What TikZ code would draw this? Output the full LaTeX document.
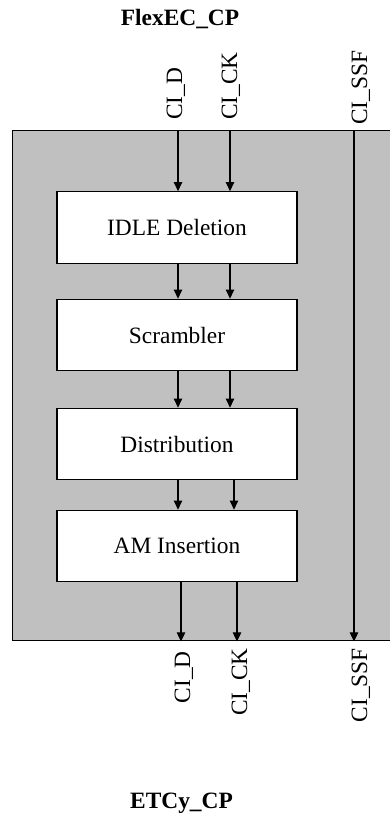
\documentclass[tikz,border=0pt]{standalone}
\usepackage{fontspec}
\setmainfont{Liberation Serif}
\usetikzlibrary{arrows.meta}
\definecolor{cpgray}{RGB}{192,192,192}
\tikzset{
  frame/.style={draw=black, line width=1.4pt, fill=cpgray, rectangle, inner sep=0pt},
  block/.style={draw=black, line width=1.3pt, fill=white, rectangle, inner sep=0pt,
                minimum width=240pt, minimum height=71.5pt, font=\fontsize{23.4}{28}\selectfont},
  sig/.style={font=\fontsize{23.4}{28}\selectfont, inner sep=0pt, rotate=90},
  title/.style={font=\fontsize{23.4}{28}\selectfont\bfseries, inner sep=0pt, anchor=base},
  arr/.style={line width=1.1pt, -{Triangle[length=9pt,width=8.5pt]}}
}
\begin{document}
\begin{tikzpicture}[x=1pt,y=-1pt]
\useasboundingbox (0,0) rectangle (390,814);
% outer frame (right edge lies outside the picture)
\node[frame, minimum width=384pt, minimum height=510pt, anchor=north west] (cp) at (12,130) {};
% blocks
\node[block] (idle) at (177,227.5) {IDLE Deletion};
\node[block] (scr)  at (177,335)   {Scrambler};
\node[block] (dist) at (177,444)   {Distribution};
\node[block] (am)   at (177,546)   {AM Insertion};
% x positions
\coordinate (xd) at (178,0);
\coordinate (xk) at (230,0);
\coordinate (xk2) at (234,0);
\coordinate (xd3) at (181,0);
\coordinate (xk3) at (237,0);
\coordinate (xs) at (354,0);
% arrows
\draw[arr] (cp.north -| xd) -- (idle.north -| xd);
\draw[arr] (cp.north -| xk) -- (idle.north -| xk);
\draw[arr] (idle.south -| xd) -- (scr.north -| xd);
\draw[arr] (idle.south -| xk) -- (scr.north -| xk);
\draw[arr] (scr.south -| xd) -- (dist.north -| xd);
\draw[arr] (scr.south -| xk) -- (dist.north -| xk);
\draw[arr] (dist.south -| xd) -- (am.north -| xd);
\draw[arr] (dist.south -| xk2) -- (am.north -| xk2);
\draw[arr] (am.south -| xd3) -- (cp.south -| xd3);
\draw[arr] (am.south -| xk3) -- (cp.south -| xk3);
\draw[arr] (cp.north -| xs) -- (cp.south -| xs);
% top labels
\node[sig, anchor=base west] (tld) at (182,120) {CI\_D};
\node[sig, anchor=base west] (tlk) at (237,120) {CI\_CK};
\node[sig, anchor=base west] (tls) at (367,125) {CI\_SSF};
% bottom labels
\node[sig, anchor=base east] (bld) at (190,651) {CI\_D};
\node[sig, anchor=base east] (blk) at (247,648) {CI\_CK};
\node[sig, anchor=base east] (bls) at (367,648) {CI\_SSF};
% titles
\node[title] (t1) at (180,25) {FlexEC\_CP};
\node[title] (t2) at (181.5,808) {ETCy\_CP};
\end{tikzpicture}
\end{document}
